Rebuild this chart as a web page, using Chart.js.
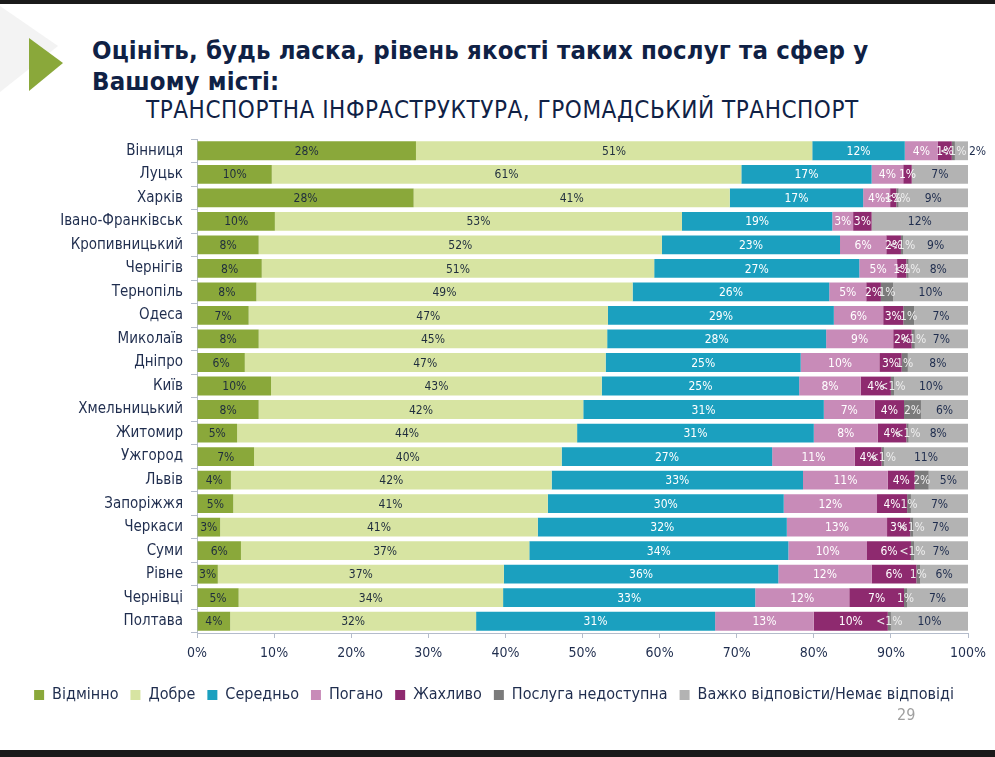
<!DOCTYPE html>
<html>
<head>
<meta charset="utf-8">
<script src="https://cdn.jsdelivr.net/npm/chart.js@4.4.0/dist/chart.umd.min.js"></script>
<style>
  body { margin:0; background:#fff; width:995px; height:757px; overflow:hidden; position:relative; font-family:"DejaVu Sans Condensed","DejaVu Sans",sans-serif; }
  #chart { position:absolute; left:0; top:0; }
  .t1 { position:absolute; left:92px; top:35px; font-size:25.5px; letter-spacing:0.15px; font-weight:bold; color:#0f2145; line-height:31px; }
  .t2 { position:absolute; left:146px; top:96px; font-size:24px; letter-spacing:0.55px; color:#0f2145; }
  .pg { position:absolute; left:897px; top:705px; font-size:16px; color:#a0a0a0; }
  .topbar { position:absolute; left:0; top:0; width:995px; height:4px; background:#1a1a1a; }
  .botbar { position:absolute; left:0; top:750px; width:995px; height:7px; background:#1a1a1a; }
  svg { position:absolute; left:0; top:0; }
</style>
</head>
<body>
<div class="topbar"></div>
<svg width="120" height="120">
  <polygon points="0,6 58,46 0,92" fill="#f3f3f3"/>
  <polygon points="29,38 63,63 29,91" fill="#8aa83a"/>
</svg>
<div class="t1">Оцініть, будь ласка, рівень якості таких послуг та сфер у<br>Вашому місті:</div>
<div class="t2">ТРАНСПОРТНА ІНФРАСТРУКТУРА, ГРОМАДСЬКИЙ ТРАНСПОРТ</div>
<canvas id="chart" width="995" height="757"></canvas>
<div class="pg">29</div>
<div class="botbar"></div>
<script>
let cities = ['Вінниця','Луцьк','Харків','Івано-Франківськ','Кропивницький','Чернігів','Тернопіль','Одеса','Миколаїв','Дніпро','Київ','Хмельницький','Житомир','Ужгород','Львів','Запоріжжя','Черкаси','Суми','Рівне','Чернівці','Полтава'];

// values (%)
let excellent = [28.4,9.7,28.1,10.1,8.0,8.4,7.7,6.7,8.0,6.2,9.6,8.0,5.2,7.4,4.4,4.7,3.0,5.7,2.7,5.4,4.3];
let good      = [51.4,60.9,41.0,52.8,52.3,50.9,48.8,46.6,45.2,46.8,42.9,42.1,44.1,39.9,41.6,40.8,41.2,37.4,37.1,34.3,31.9];
let average   = [12.0,16.9,17.3,19.5,23.1,26.6,25.5,29.3,28.4,25.3,25.6,31.2,30.7,27.3,32.6,30.6,32.3,33.6,35.6,32.7,31.0];
let bad       = [4.3,4.1,3.5,2.7,6.0,4.9,4.8,6.4,8.7,10.2,8.0,6.6,8.3,10.7,11.0,12.1,13.0,10.2,12.1,12.2,12.8];
let awful     = [1.8,1.1,0.8,2.4,1.9,1.2,1.9,2.6,2.4,2.9,3.9,3.8,3.7,3.5,3.5,3.9,3.0,5.7,5.8,7.1,9.6];
let noService = [0.4,0,0.3,0,0.3,0.3,1.6,1.4,0.4,0.8,0.4,2.2,0.3,0.3,1.8,0.5,0.4,0.4,0.5,0.4,0.4];
let hard      = [1.7,7.3,9.0,12.5,8.4,7.7,9.7,7.0,6.9,7.8,9.6,6.1,7.7,10.9,5.1,7.4,7.1,7.0,6.2,7.9,10.0];

// printed labels
let excellentLbl = ['28%','10%','28%','10%','8%','8%','8%','7%','8%','6%','10%','8%','5%','7%','4%','5%','3%','6%','3%','5%','4%'];
let goodLbl      = ['51%','61%','41%','53%','52%','51%','49%','47%','45%','47%','43%','42%','44%','40%','42%','41%','41%','37%','37%','34%','32%'];
let averageLbl   = ['12%','17%','17%','19%','23%','27%','26%','29%','28%','25%','25%','31%','31%','27%','33%','30%','32%','34%','36%','33%','31%'];
let badLbl       = ['4%','4%','4%','3%','6%','5%','5%','6%','9%','10%','8%','7%','8%','11%','11%','12%','13%','10%','12%','12%','13%'];
let awfulLbl     = ['1%','1%','1%','3%','2%','1%','2%','3%','2%','3%','4%','4%','4%','4%','4%','4%','3%','6%','6%','7%','10%'];
let noServiceLbl = ['<1%','','<1%','','<1%','<1%','1%','1%','<1%','1%','<1%','2%','<1%','<1%','2%','1%','<1%','<1%','1%','1%','<1%'];
let hardLbl      = ['2%','7%','9%','12%','9%','8%','10%','7%','7%','8%','10%','6%','8%','11%','5%','7%','7%','7%','6%','7%','10%'];

let seriesNames = ['Відмінно','Добре','Середньо','Погано','Жахливо','Послуга недоступна','Важко відповісти/Немає відповіді'];
let colors = ['#8aa83a','#d7e4a2','#1ba0bf','#c88bb8','#8e2a6f','#7b7b7b','#b3b3b3'];
let textColors = ['#1f2d3d','#1f2d3d','#ffffff','#ffffff','#ffffff','#eeeeee','#1f2d4e'];
let allData = [excellent,good,average,bad,awful,noService,hard];
let allLbl = [excellentLbl,goodLbl,averageLbl,badLbl,awfulLbl,noServiceLbl,hardLbl];

const FONT = '"DejaVu Sans Condensed","DejaVu Sans",sans-serif';
const axisCol = '#b4bccb';

let segLabels = {
    id: 'segLabels',
    afterDatasetsDraw(chart) {
        let c = chart.ctx;
        c.save();
        c.font = '12px ' + FONT;
        c.textBaseline = 'middle';
        c.textAlign = 'center';
        chart.data.datasets.forEach((ds, di) => {
            chart.getDatasetMeta(di).data.forEach((el, i) => {
                let t = allLbl[di][i];
                if (!t) return;
                let w = c.measureText(t).width;
                let x = (el.x + el.base) / 2;
                c.fillStyle = textColors[di];
                if (di === 6 && el.x - el.base < w) {
                    x = el.x + w / 2 + 1;
                    c.fillStyle = '#1f2d4e';
                }
                c.fillText(t, x, el.y + 1);
            });
        });
        c.restore();
    }
};

Chart.defaults.font.family = FONT;
Chart.defaults.color = '#1f2d4e';

let ctx = document.getElementById('chart').getContext('2d');
let chart = new Chart(ctx, {
    type: 'bar',
    data: {
        labels: cities,
        datasets: allData.map((d, i) => ({
            label: seriesNames[i],
            data: d,
            backgroundColor: colors[i],
            borderWidth: 0,
            barPercentage: 0.8,
            categoryPercentage: 1
        }))
    },
    options: {
        indexAxis: 'y',
        responsive: false,
        animation: false,
        layout: { padding: { top: 139, right: 27, bottom: 44, left: 20 } },
        scales: {
            x: {
                stacked: true, min: 0, max: 100,
                ticks: { stepSize: 10, callback: v => v + '%', font: { size: 14 }, padding: 7, color: '#1f2d4e' },
                grid: { drawOnChartArea: false, drawTicks: true, tickLength: 5, color: axisCol },
                border: { display: true, color: axisCol },
                afterFit: a => { a.height = 42; }
            },
            y: {
                stacked: true,
                ticks: { font: { size: 15 }, padding: 8, color: '#1f2d4e' },
                grid: { drawOnChartArea: false, drawTicks: true, tickLength: 6, color: axisCol },
                border: { display: true, color: axisCol },
                afterFit: a => { a.width = 177; }
            }
        },
        plugins: {
            legend: {
                position: 'bottom',
                labels: { boxWidth: 10, boxHeight: 10, font: { size: 16 }, padding: 12, color: '#1f2d4e' }
            },
            tooltip: { enabled: false }
        }
    },
    plugins: [segLabels]
});
</script>
</body>
</html>
